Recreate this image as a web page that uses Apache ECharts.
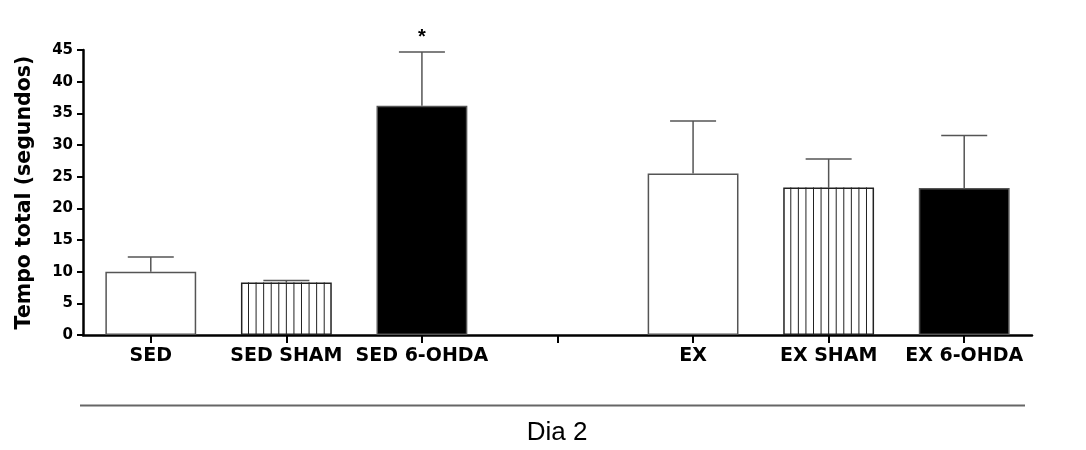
<!DOCTYPE html>
<html>
<head>
<meta charset="utf-8">
<script src="https://cdn.jsdelivr.net/npm/echarts@6/dist/echarts.min.js"></script>
<style>
  html, body { margin: 0; padding: 0; background: #fff; }
  #chart { width: 1086px; height: 450px; }
</style>
</head>
<body>
<div id="chart"></div>
<script>
// dados
const categories = ['SED', 'SED SHAM', 'SED 6-OHDA', '', 'EX', 'EX SHAM', 'EX 6-OHDA'];
const means = [10.0, 8.3, 36.2, null, 25.5, 23.3, 23.2];
const errTop = [12.3, 8.6, 44.7, null, 33.8, 27.8, 31.5];
const fills = ['white', 'stripe', 'black', null, 'white', 'stripe', 'black'];
const marks = ['', '', '*', '', '', '', ''];
const yTicks = [0, 5, 10, 15, 20, 25, 30, 35, 40, 45];

const boldFont = 'DejaVu Sans, sans-serif';
const plainFont = 'Liberation Sans, Arial, sans-serif';
const barRatio = 0.67;

let myChart = echarts.init(document.getElementById('chart'));

let barData = means.map((v, i) => {
  if (v === null) return null;
  let f = fills[i];
  return {
    value: v,
    itemStyle: {
      color: f === 'black' ? '#000' : '#fff',
      borderColor: f === 'stripe' ? '#222' : '#555',
      borderWidth: 1.5
    }
  };
});

myChart.setOption({
  animation: false,
  grid: { left: 83, right: 54, top: 50, bottom: 115 },
  xAxis: {
    type: 'category',
    data: categories,
    axisLine: { lineStyle: { color: '#000', width: 2.5 } },
    axisTick: { show: true, alignWithLabel: true, interval: 0, length: 8, lineStyle: { color: '#000', width: 2 } },
    axisLabel: { color: '#000', fontWeight: 'bold', fontSize: 19, fontFamily: boldFont, margin: 12, interval: 0 }
  },
  yAxis: {
    type: 'value',
    min: 0,
    max: 45,
    interval: 5,
    name: 'Tempo total (segundos)',
    nameLocation: 'middle',
    nameGap: 48,
    nameTextStyle: { color: '#000', fontWeight: 'bold', fontSize: 20.5, fontFamily: boldFont },
    splitLine: { show: false },
    axisLine: { show: true, lineStyle: { color: '#000', width: 2.5 } },
    axisTick: { show: true, length: 6, lineStyle: { color: '#000', width: 2 } },
    axisLabel: {
      color: '#000', fontWeight: 'bold', fontSize: 15, fontFamily: boldFont, margin: 10,
      formatter: v => yTicks.includes(v) ? String(v) : ''
    }
  },
  graphic: [
    { type: 'line', shape: { x1: 80, y1: 405.5, x2: 1025, y2: 405.5 }, style: { stroke: '#666', lineWidth: 2 } },
    { type: 'text', x: 557, y: 433, style: { text: 'Dia 2', fontSize: 26, fontFamily: plainFont, fill: '#000', align: 'center', verticalAlign: 'middle' } }
  ],
  series: [
    {
      type: 'bar',
      data: barData,
      barWidth: (barRatio * 100) + '%'
    },
    {
      // listras verticais
      type: 'custom',
      data: means.map((v, i) => [i, v]),
      renderItem: function (params, api) {
        let i = api.value(0);
        if (fills[i] !== 'stripe') return null;
        let base = api.coord([i, 0]);
        let top = api.coord([i, api.value(1)]);
        let w = api.size([1, 0])[0] * barRatio;
        let left = base[0] - w / 2;
        let children = [];
        for (let k = 1; k < 12; k++) {
          let x = left + w * k / 12;
          children.push({
            type: 'line',
            shape: { x1: x, y1: top[1], x2: x, y2: base[1] },
            style: { stroke: '#222', lineWidth: 1 }
          });
        }
        return { type: 'group', children: children };
      },
      z: 3
    },
    {
      // barras de erro
      type: 'custom',
      data: means.map((v, i) => [i, v, errTop[i]]),
      renderItem: function (params, api) {
        let i = api.value(0);
        if (means[i] === null) return null;
        let p1 = api.coord([i, api.value(1)]);
        let p2 = api.coord([i, api.value(2)]);
        let half = 23;
        let children = [
          { type: 'line', shape: { x1: p1[0], y1: p1[1], x2: p2[0], y2: p2[1] }, style: { stroke: '#555', lineWidth: 1.5 } },
          { type: 'line', shape: { x1: p2[0] - half, y1: p2[1], x2: p2[0] + half, y2: p2[1] }, style: { stroke: '#555', lineWidth: 1.5 } }
        ];
        if (marks[i]) {
          children.push({
            type: 'text',
            style: { text: marks[i], x: p2[0], y: p2[1] - 4, align: 'center', verticalAlign: 'bottom', fontSize: 20, fontWeight: 'bold', fontFamily: plainFont, fill: '#000' }
          });
        }
        return { type: 'group', children: children };
      },
      z: 4
    }
  ]
});
</script>
</body>
</html>
